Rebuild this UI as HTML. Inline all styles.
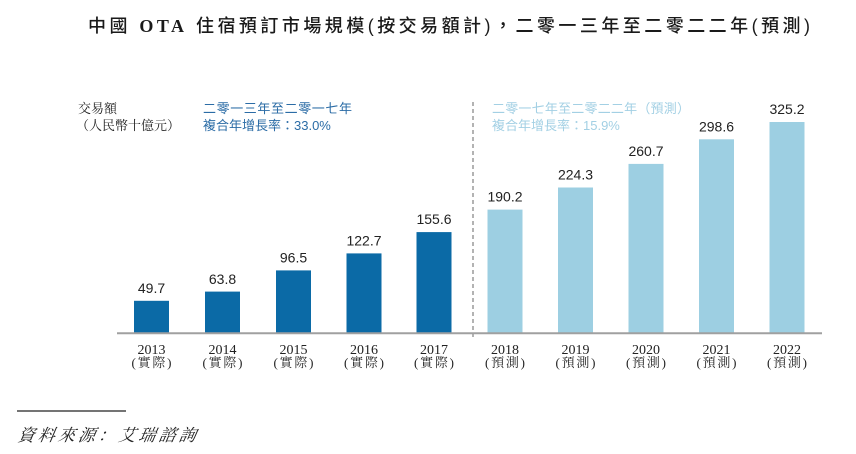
<!DOCTYPE html>
<html><head><meta charset="utf-8"><style>
html,body{margin:0;padding:0;background:#fff;}
svg{display:block;}
</style></head><body>
<svg width="856" height="454" viewBox="0 0 856 454" xmlns="http://www.w3.org/2000/svg">
<rect width="856" height="454" fill="#fff"/>
<!-- Title -->
<text x="88" y="32" font-size="18" fill="#1a1a1a" font-family="'Liberation Sans','Noto Sans CJK TC',sans-serif" font-weight="500" textLength="722" lengthAdjust="spacing">中國 <tspan font-family="'Liberation Serif',serif" font-weight="bold">OTA</tspan> 住宿預訂市場規模(按交易額計)，二零一三年至二零二二年(預測)</text>

<!-- Left unit label -->
<text x="78" y="113" font-size="13" fill="#222" font-family="'Liberation Serif','Noto Serif CJK SC',serif">交易額</text>
<text x="76" y="130" font-size="13" fill="#222" font-family="'Liberation Serif','Noto Serif CJK SC',serif" textLength="104" lengthAdjust="spacing">（人民幣十億元）</text>

<!-- CAGR annotations -->
<g font-family="'Liberation Sans','Noto Sans CJK TC',sans-serif" font-size="13">
<text x="203" y="113" fill="#2b6ca6" textLength="149" lengthAdjust="spacing">二零一三年至二零一七年</text>
<text x="203" y="130" fill="#2b6ca6">複合年增長率：33.0%</text>
<text x="492" y="113" fill="#a3d0e4" textLength="198" lengthAdjust="spacing">二零一七年至二零二二年（預測）</text>
<text x="492" y="130" fill="#a3d0e4">複合年增長率：15.9%</text>
</g>

<!-- Dashed divider -->
<line x1="473" y1="102" x2="473" y2="340" stroke="#9a9a9a" stroke-width="1.5" stroke-dasharray="4,3"/>

<!-- Bars -->
<g fill="#0b6aa6">
<rect x="134" y="300.8" width="35" height="32.2"/>
<rect x="205" y="291.6" width="35" height="41.4"/>
<rect x="276" y="270.4" width="35" height="62.6"/>
<rect x="346.5" y="253.4" width="35" height="79.6"/>
<rect x="416.5" y="232.1" width="35" height="100.9"/>
</g>
<g fill="#9dcfe2">
<rect x="487.5" y="209.6" width="35" height="123.4"/>
<rect x="558" y="187.5" width="35" height="145.5"/>
<rect x="628.5" y="163.9" width="35" height="169.1"/>
<rect x="699" y="139.3" width="35" height="193.7"/>
<rect x="769.5" y="122" width="35" height="211"/>
</g>

<!-- Axis -->
<line x1="117" y1="333.3" x2="822" y2="333.3" stroke="#a0a0a0" stroke-width="2"/>

<!-- Value labels -->
<g font-family="'Liberation Sans',sans-serif" font-size="14" fill="#222" text-anchor="middle">
<text x="151.5" y="293">49.7</text>
<text x="222.5" y="284">63.8</text>
<text x="293.5" y="262.5">96.5</text>
<text x="364" y="245.5">122.7</text>
<text x="434" y="224">155.6</text>
<text x="505" y="201.5">190.2</text>
<text x="575.5" y="179.5">224.3</text>
<text x="646" y="156">260.7</text>
<text x="716.5" y="131.5">298.6</text>
<text x="787" y="114">325.2</text>
</g>

<!-- X labels -->
<g font-family="'Liberation Serif','Noto Serif CJK SC',serif" font-size="14" fill="#222" text-anchor="middle">
<text x="151.5" y="354">2013</text>
<text x="222.5" y="354">2014</text>
<text x="293.5" y="354">2015</text>
<text x="364" y="354">2016</text>
<text x="434" y="354">2017</text>
<text x="505" y="354">2018</text>
<text x="575.5" y="354">2019</text>
<text x="646" y="354">2020</text>
<text x="716.5" y="354">2021</text>
<text x="787" y="354">2022</text>
</g>
<g font-family="'Liberation Serif','Noto Serif CJK SC',serif" font-size="13" fill="#222">
<text x="131.5" y="367" textLength="40" lengthAdjust="spacing">(實際)</text>
<text x="202.5" y="367" textLength="40" lengthAdjust="spacing">(實際)</text>
<text x="273.5" y="367" textLength="40" lengthAdjust="spacing">(實際)</text>
<text x="344" y="367" textLength="40" lengthAdjust="spacing">(實際)</text>
<text x="414" y="367" textLength="40" lengthAdjust="spacing">(實際)</text>
<text x="485" y="367" textLength="40" lengthAdjust="spacing">(預測)</text>
<text x="555.5" y="367" textLength="40" lengthAdjust="spacing">(預測)</text>
<text x="626" y="367" textLength="40" lengthAdjust="spacing">(預測)</text>
<text x="696.5" y="367" textLength="40" lengthAdjust="spacing">(預測)</text>
<text x="767" y="367" textLength="40" lengthAdjust="spacing">(預測)</text>
</g>

<!-- Footer -->
<line x1="17" y1="411" x2="126" y2="411" stroke="#222" stroke-width="1.2"/>
<text x="17" y="441" font-size="17" fill="#222" font-style="italic" font-family="'Liberation Serif','Noto Serif CJK SC',serif" textLength="178" lengthAdjust="spacing" transform="skewX(-10) translate(77.8 0)">資料來源：艾瑞諮詢</text>
</svg>
</body></html>
